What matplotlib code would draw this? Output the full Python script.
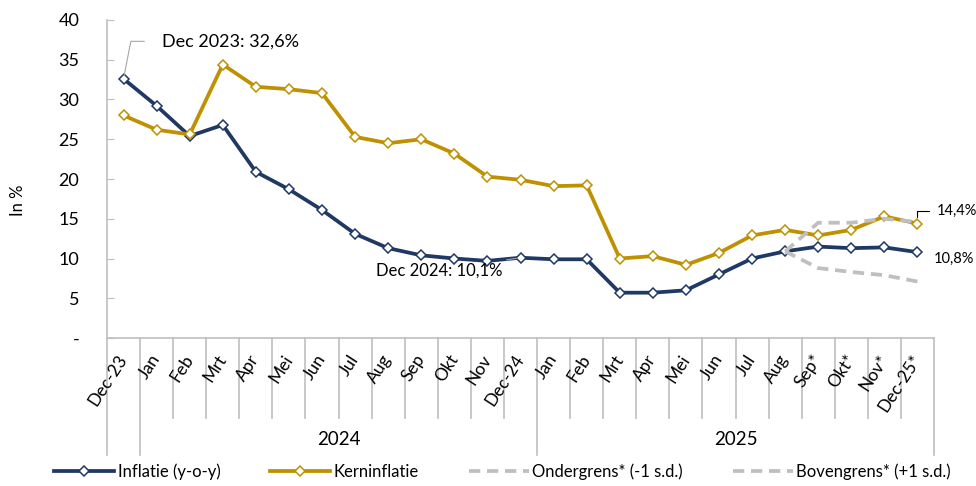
import numpy as np
import matplotlib
matplotlib.use('Agg')
import matplotlib.pyplot as plt

plt.rcParams['font.family'] = ['Lato', 'DejaVu Sans']

months = ['Dec-23', 'Jan', 'Feb', 'Mrt', 'Apr', 'Mei', 'Jun', 'Jul', 'Aug', 'Sep', 'Okt', 'Nov',
          'Dec-24', 'Jan', 'Feb', 'Mrt', 'Apr', 'Mei', 'Jun', 'Jul', 'Aug', 'Sep*', 'Okt*', 'Nov*', 'Dec-25*']
years = ['2024', '2025']

inflatie = [32.6, 29.2, 25.4, 26.8, 20.9, 18.7, 16.1, 13.1, 11.3, 10.4, 10.0, 9.7,
            10.1, 9.9, 9.9, 5.7, 5.7, 6.0, 8.0, 10.0, 10.9, 11.5, 11.3, 11.4, 10.8]
kern = [28.0, 26.2, 25.6, 34.4, 31.6, 31.3, 30.8, 25.3, 24.5, 25.0, 23.2, 20.3,
        19.9, 19.1, 19.2, 10.0, 10.3, 9.2, 10.7, 12.9, 13.6, 12.9, 13.6, 15.3, 14.4]
nan = np.nan
ondergrens = [nan] * 20 + [10.9, 8.8, 8.3, 7.9, 7.1]
bovengrens = [nan] * 20 + [10.9, 14.5, 14.5, 15.0, 14.6]

navy = '#1f3864'
gold = '#bf9000'
grey = '#bfbfbf'
axc = '#bfbfbf'

x = np.arange(len(months))

fig = plt.figure(figsize=(9.76, 4.86), dpi=100)
ax = fig.add_axes([107/976, 1-338/486, (934-107)/976, 318/486])

ax.plot(x, inflatie, color=navy, lw=2.7, marker='D', ms=5.5, mfc='white', mec=navy, mew=1.1,
        label='Inflatie (y-o-y)', zorder=3)
ax.plot(x, kern, color=gold, lw=2.7, marker='D', ms=5.5, mfc='white', mec=gold, mew=1.1,
        label='Kerninflatie', zorder=3)
ax.plot(x, ondergrens, color=grey, lw=2.7, ls=(0, (3, 1.8)), label='Ondergrens* (-1 s.d.)', zorder=4)
ax.plot(x, bovengrens, color=grey, lw=2.7, ls=(0, (3, 1.8)), label='Bovengrens* (+1 s.d.)', zorder=4)

ax.set_xlim(-0.5, len(months) - 0.5)
ax.set_ylim(0, 40)
ax.set_yticks(range(0, 41, 5))
ax.set_yticklabels(['-'] + [str(v) for v in range(5, 41, 5)], fontsize=13)
ax.tick_params(axis='y', direction='in', length=5, color=axc, pad=20)

for s in ['top', 'right']:
    ax.spines[s].set_visible(False)
for s in ['left', 'bottom']:
    ax.spines[s].set_color(axc)
    ax.spines[s].set_linewidth(1.2)

ax.set_xticks(x)
ax.set_xticklabels(months, fontsize=12.5, rotation=57, ha='right', va='center', rotation_mode='anchor')
ax.tick_params(axis='x', length=0, pad=13)

# category separators (multi-level axis)
tr = ax.get_xaxis_transform()
for i in range(len(months) + 1):
    b = i - 0.5
    long_sep = i in (0, 1, 13, len(months))
    ax.plot([b, b], [0, -0.368 if long_sep else -0.252], transform=tr, color=axc, lw=1.2,
            clip_on=False, zorder=1)
ax.text(6.5, -0.32, years[0], transform=tr, ha='center', va='center', fontsize=13.5)
ax.text(18.5, -0.32, years[1], transform=tr, ha='center', va='center', fontsize=13.5)

fig.text(18/976, 1-200/486, 'In %', rotation=90, ha='center', va='center', fontsize=12)

# annotations
ax.annotate('Dec 2023: 32,6%', xy=(0, inflatie[0]), xytext=(28, 27), textcoords='offset points',
            ha='left', va='center', fontsize=13,
            arrowprops=dict(arrowstyle='-', color='#a6a6a6', lw=0.8, shrinkA=11, shrinkB=3,
                            connectionstyle='angle,angleA=0,angleB=79,rad=0'))
ax.annotate('Dec 2024: 10,1%', xy=(12, inflatie[12]), xytext=(-13, -9), textcoords='offset points',
            ha='right', va='center', fontsize=12,
            arrowprops=dict(arrowstyle='-', color='#a6a6a6', lw=0.8, shrinkA=1, shrinkB=3))
ax.annotate('14,4%', xy=(24, kern[24]), xytext=(14, 9), textcoords='offset points',
            ha='left', va='center', fontsize=10.5,
            arrowprops=dict(arrowstyle='-', color='black', lw=0.8, shrinkA=4, shrinkB=5,
                            connectionstyle='angle,angleA=0,angleB=90,rad=0'))
ax.annotate('10,8%', xy=(24, inflatie[24]), xytext=(12, -5), textcoords='offset points',
            ha='left', va='center', fontsize=10.5)

fig.legend(loc='center', bbox_to_anchor=(0.515, 1-472/486), ncol=4, frameon=False, fontsize=12,
           handlelength=3.6, columnspacing=3.0, handletextpad=0.2)

fig.savefig('out.png', dpi=100)
